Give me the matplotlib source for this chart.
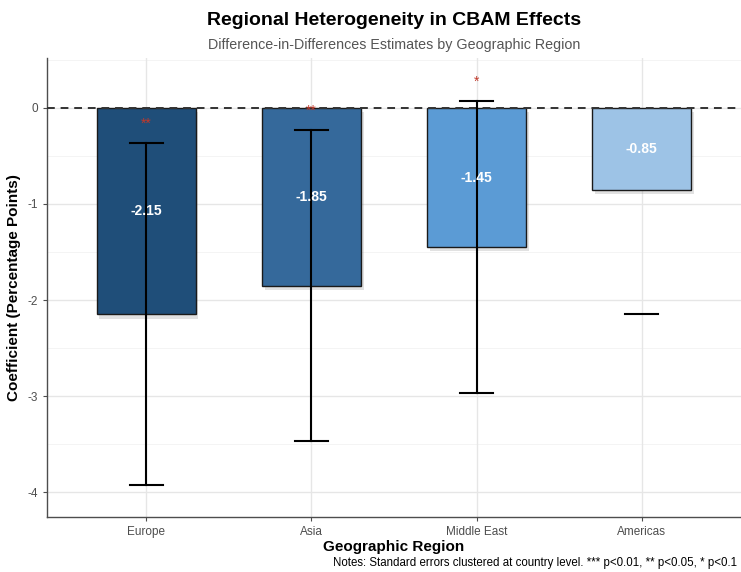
import numpy as np
import matplotlib
matplotlib.use('Agg')
from matplotlib import pyplot as plt
import matplotlib.patheffects as pe

plt.rcParams['font.family'] = ['Liberation Sans Narrow', 'Liberation Sans', 'DejaVu Sans']

regions = ['Europe', 'Asia', 'Middle East', 'Americas']
coef = [-2.15, -1.85, -1.45, -0.85]
ci_low = [-3.93, -3.47, -2.97, -2.15]
ci_high = [-0.37, -0.23, 0.07, None]
stars = ['**', '**', '*', '']
colors = ['#1f4e79', '#35699b', '#5b9bd5', '#9dc3e6']

fig = plt.figure(figsize=(7.41, 5.72), dpi=100)
ax = fig.add_axes([0.0634, 0.096, 0.9366, 0.8026])

x = np.arange(1, len(regions) + 1)

# grid like ggplot theme_minimal
for y in np.arange(-4, 0.6, 1):
    ax.axhline(y, color='#e6e6e6', lw=1.0, zorder=0)
for y in np.arange(-3.5, 0.6, 1):
    ax.axhline(y, color='#f2f2f2', lw=0.6, zorder=0)
for xi in x:
    ax.axvline(xi, color='#e6e6e6', lw=1.0, zorder=0)

bars = ax.bar(x, coef, width=0.6, color=colors, edgecolor='#1a1a1a', lw=1.0, zorder=2)
for b in bars:
    b.set_path_effects([pe.SimplePatchShadow(offset=(2, -3), shadow_rgbFace='#888888', alpha=0.25),
                        pe.Normal()])

ax.axhline(0, color='#333333', lw=1.4, ls=(0, (4, 3)), zorder=3)

# error bars
for xi, lo, hi in zip(x, ci_low, ci_high):
    if hi is None:
        ax.plot([xi - 0.1, xi + 0.1], [lo, lo], color='black', lw=1.5, zorder=4)
        continue
    ax.plot([xi, xi], [lo, hi], color='black', lw=1.5, zorder=4)
    ax.plot([xi - 0.1, xi + 0.1], [lo, lo], color='black', lw=1.5, zorder=4)
    ax.plot([xi - 0.1, xi + 0.1], [hi, hi], color='black', lw=1.5, zorder=4)

for xi, c, s, hi in zip(x, coef, stars, ci_high):
    ax.text(xi, c / 2, f'{c:.2f}', color='white', fontsize=10, fontweight='bold',
            ha='center', va='center', zorder=5)
    if s:
        ax.text(xi, hi + 0.2, s, color='#c0392b', fontsize=10, ha='center', va='center', zorder=5)

ax.set_xlim(0.4, 4.6)
ax.set_ylim(-4.26, 0.52)
ax.set_xticks(x)
ax.set_xticklabels(regions)
ax.set_yticks([-4, -3, -2, -1, 0])
ax.set_yticklabels(['-4', '-3', '-2', '-1', '0'])
ax.tick_params(colors='#4d4d4d', labelsize=8.5, length=3, width=0.8)
for sp in ['top', 'right']:
    ax.spines[sp].set_visible(False)
for sp in ['left', 'bottom']:
    ax.spines[sp].set_color('#4d4d4d')
    ax.spines[sp].set_linewidth(1.0)

ax.set_xlabel('Geographic Region', fontsize=11, fontweight='bold', labelpad=1)
ax.set_ylabel('Coefficient (Percentage Points)', fontsize=11, fontweight='bold', labelpad=5)

fig.text(0.532, 0.964, 'Regional Heterogeneity in CBAM Effects', ha='center', va='center',
         fontsize=14, fontweight='bold')
fig.text(0.532, 0.922, 'Difference-in-Differences Estimates by Geographic Region', ha='center',
         va='center', fontsize=10.3, color='#555555')
fig.text(0.995, 0.016, 'Notes: Standard errors clustered at country level. *** p<0.01, ** p<0.05, * p<0.1',
         ha='right', va='center', fontsize=8.3)

fig.savefig('out.png', dpi=100)
